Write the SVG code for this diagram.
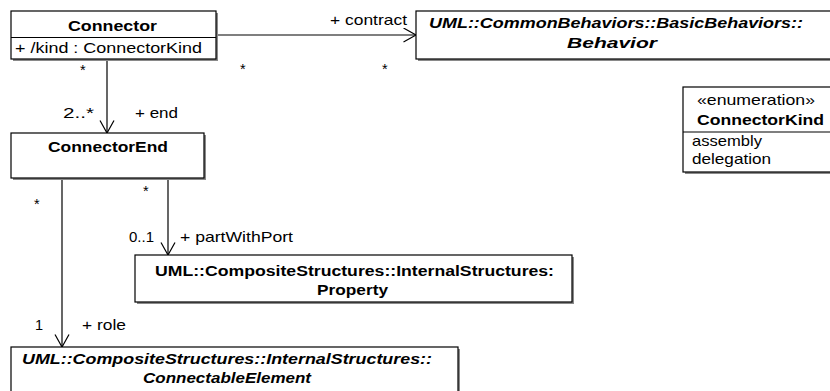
<svg xmlns="http://www.w3.org/2000/svg" width="830" height="391" viewBox="0 0 830 391">
<style>
text{font-family:"Liberation Sans",Arial,sans-serif;font-size:14.5px;fill:#000}
.b{font-weight:bold}
.bi{font-weight:bold;font-style:italic}
.box{fill:#fff;stroke:#000;stroke-width:1.2}
.sh{fill:#8a8a8a}
.ln{stroke:#000;stroke-width:1.2;fill:none}
</style>
<defs>
<marker id="open" markerWidth="16" markerHeight="16" refX="13" refY="7.5" orient="auto" markerUnits="userSpaceOnUse">
<path d="M0.5,0.5 L13,7.5 L0.5,14.5" fill="none" stroke="#000" stroke-width="1.2"/>
</marker>
</defs>
<g id="connectors">
<line class="ln" x1="216" y1="35" x2="416" y2="35" marker-end="url(#open)"/>
<line class="ln" x1="107" y1="60" x2="107" y2="133" marker-end="url(#open)"/>
<line class="ln" x1="168" y1="178" x2="168" y2="255" marker-end="url(#open)"/>
<line class="ln" x1="62" y1="178" x2="62" y2="347" marker-end="url(#open)"/>
<text x="330" y="25" textLength="77" lengthAdjust="spacingAndGlyphs">+ contract</text>
<text x="80" y="75">*</text>
<text x="240" y="74">*</text>
<text x="382" y="74">*</text>
<text x="63" y="118" textLength="31" lengthAdjust="spacingAndGlyphs">2..*</text>
<text x="135" y="118" textLength="43" lengthAdjust="spacingAndGlyphs">+ end</text>
<text x="34" y="209">*</text>
<text x="143" y="196">*</text>
<text x="129" y="242" textLength="25" lengthAdjust="spacingAndGlyphs">0..1</text>
<text x="180" y="242" textLength="113" lengthAdjust="spacingAndGlyphs">+ partWithPort</text>
<text x="35" y="330">1</text>
<text x="82" y="330" textLength="44" lengthAdjust="spacingAndGlyphs">+ role</text>
</g>
<g id="Connector">
<rect class="sh" x="13" y="13" width="205" height="48"/>
<rect class="box" x="11" y="11" width="205" height="48"/>
<line class="ln" x1="11" y1="37.5" x2="216" y2="37.5"/>
<text class="b" x="68" y="31" textLength="89" lengthAdjust="spacingAndGlyphs">Connector</text>
<text x="15" y="53" textLength="187" lengthAdjust="spacingAndGlyphs">+ /kind : ConnectorKind</text>
</g>
<g id="Behavior">
<rect class="sh" x="418" y="13" width="420" height="48"/>
<rect class="box" x="416" y="11" width="420" height="48"/>
<text class="bi" x="429" y="28" textLength="374" lengthAdjust="spacingAndGlyphs">UML::CommonBehaviors::BasicBehaviors::</text>
<text class="bi" x="567" y="48" textLength="90" lengthAdjust="spacingAndGlyphs">Behavior</text>
</g>
<g id="ConnectorKind">
<rect class="sh" x="685" y="89" width="150" height="85"/>
<rect class="box" x="683" y="87" width="150" height="85"/>
<line class="ln" x1="683" y1="132" x2="833" y2="132"/>
<text x="697" y="105" textLength="118" lengthAdjust="spacingAndGlyphs">«enumeration»</text>
<text class="b" x="697" y="125" textLength="127" lengthAdjust="spacingAndGlyphs">ConnectorKind</text>
<text x="692" y="146" textLength="70" lengthAdjust="spacingAndGlyphs">assembly</text>
<text x="692" y="164" textLength="79" lengthAdjust="spacingAndGlyphs">delegation</text>
</g>
<g id="ConnectorEnd">
<rect class="sh" x="13" y="135" width="193" height="45"/>
<rect class="box" x="11" y="133" width="193" height="45"/>
<text class="b" x="48" y="152" textLength="120" lengthAdjust="spacingAndGlyphs">ConnectorEnd</text>
</g>
<g id="Property">
<rect class="sh" x="137" y="257" width="437" height="47"/>
<rect class="box" x="135" y="255" width="437" height="47"/>
<text class="b" x="155" y="276" textLength="399" lengthAdjust="spacingAndGlyphs">UML::CompositeStructures::InternalStructures:</text>
<text class="b" x="317" y="295" textLength="71" lengthAdjust="spacingAndGlyphs">Property</text>
</g>
<g id="ConnectableElement">
<rect class="sh" x="13" y="349" width="447" height="50"/>
<rect class="box" x="11" y="347" width="447" height="50"/>
<text class="bi" x="22" y="364" textLength="410" lengthAdjust="spacingAndGlyphs">UML::CompositeStructures::InternalStructures::</text>
<text class="bi" x="143" y="383" textLength="168" lengthAdjust="spacingAndGlyphs">ConnectableElement</text>
</g>
</svg>
